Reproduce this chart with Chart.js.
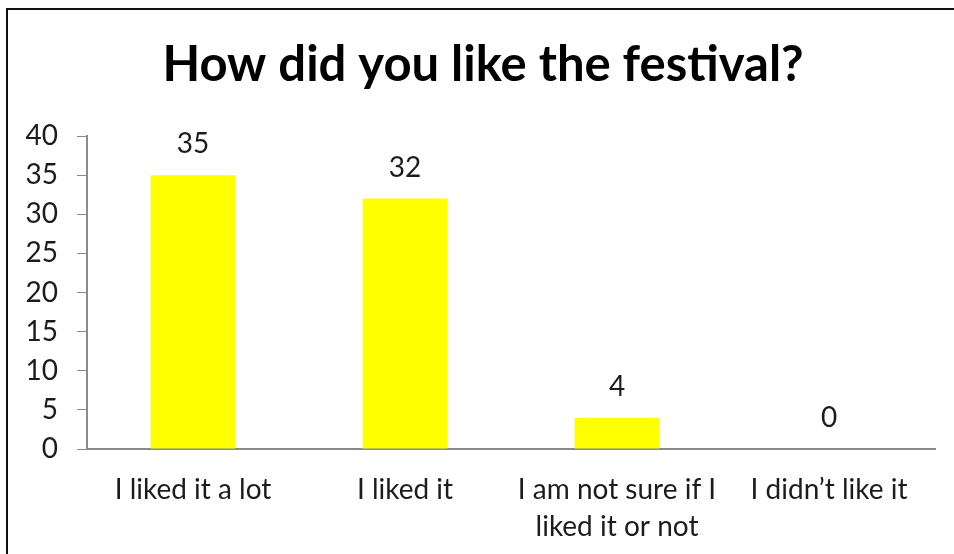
<!DOCTYPE html>
<html>
<head>
<meta charset="utf-8">
<script src="https://cdn.jsdelivr.net/npm/chart.js@4/dist/chart.umd.min.js"></script>
<style>
  html, body { margin: 0; padding: 0; background: #fff; }
  #wrap { position: relative; width: 954px; height: 554px; overflow: hidden; }
  #frame { position: absolute; left: 6px; top: 8px; width: 1000px; height: 600px; border: 2px solid #111; box-sizing: border-box; }
  canvas { position: absolute; left: 0; top: 0; }
</style>
</head>
<body>
<div id="wrap">
  <div id="frame"></div>
  <canvas id="b_chart" width="954" height="554"></canvas>
</div>
<script>
var answers = [
    "I liked it a lot",
    "I liked it",
    ["I am not sure if I", "liked it or not"],
    "I didn\u2019t like it"
];
var votes = [35, 32, 4, 0];
var yTicks = [0, 5, 10, 15, 20, 25, 30, 35, 40];
var heading = "How did you like the festival?";

var textColor = "#1c1c1c";
var axisColor = "#8a8a8a";

// heading sits a bit right of the canvas centre, so draw it by hand
var heading_plugin = {
    id: "heading",
    afterDraw: function(chart) {
        var ctx = chart.ctx;
        ctx.save();
        ctx.font = "bold 49px Lato";
        ctx.fillStyle = "#000";
        ctx.textAlign = "center";
        ctx.textBaseline = "alphabetic";
        ctx.fillText(heading, 483, 81);
        ctx.restore();
    }
};

// writes each bar's value above it
var valueLabels = {
    id: "valueLabels",
    afterDatasetsDraw: function(chart) {
        var ctx = chart.ctx;
        var meta = chart.getDatasetMeta(0);
        ctx.save();
        ctx.font = "28px Lato";
        ctx.fillStyle = textColor;
        ctx.textAlign = "center";
        ctx.textBaseline = "middle";
        meta.data.forEach(function(bar, i) {
            ctx.fillText(String(votes[i]), bar.x, bar.y - 31);
        });
        ctx.restore();
    }
};

var ctx = document.getElementById("b_chart");
var chart = new Chart(ctx, {
    type: "bar",
    data: {
        labels: answers,
        datasets: [{
            data: votes,
            backgroundColor: "#ffff00",
            borderWidth: 0,
            barPercentage: 0.4,
            categoryPercentage: 1
        }]
    },
    options: {
        responsive: false,
        animation: false,
        layout: {
            padding: { left: 0, right: 19, top: 136, bottom: 0 }
        },
        plugins: {
            legend: { display: false },
            tooltip: { enabled: false },
            title: { display: false }
        },
        scales: {
            x: {
                grid: { display: false },
                border: { display: true, color: axisColor, width: 2 },
                ticks: {
                    color: textColor,
                    font: { family: "Lato", size: 28, lineHeight: 1.3 },
                    padding: 15,
                    maxRotation: 0,
                    autoSkip: false
                },
                afterFit: function(scale) { scale.height = 105; }
            },
            y: {
                min: 0,
                max: 40,
                afterBuildTicks: function(scale) {
                    scale.ticks = yTicks.map(function(v) { return { value: v }; });
                },
                grid: {
                    drawOnChartArea: false,
                    drawTicks: true,
                    tickLength: 10,
                    color: axisColor
                },
                border: { display: true, color: axisColor, width: 2 },
                ticks: {
                    color: textColor,
                    font: { family: "Lato", size: 28 },
                    padding: 19
                },
                afterFit: function(scale) { scale.width = 87; }
            }
        }
    },
    plugins: [valueLabels, heading_plugin]
});
</script>
</body>
</html>
